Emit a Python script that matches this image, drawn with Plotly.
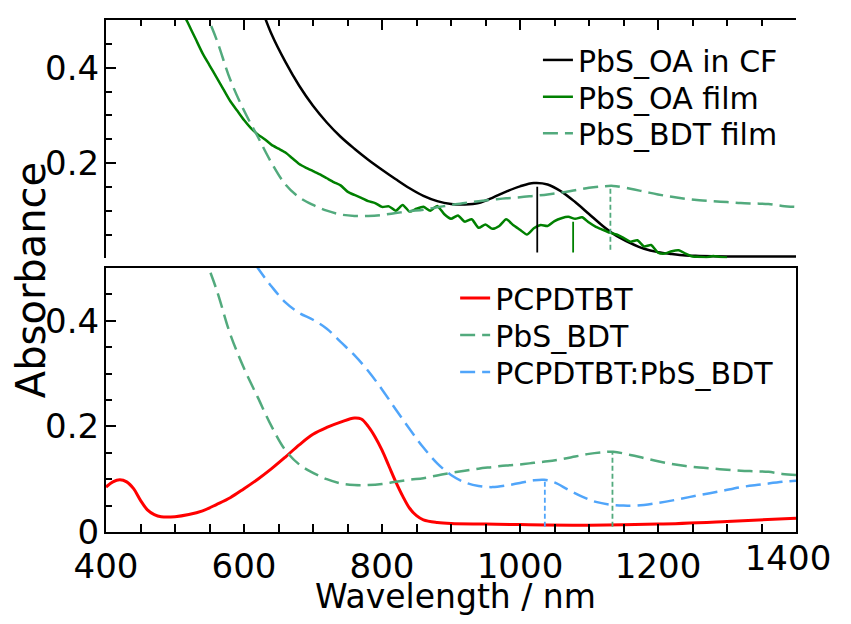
import plotly.graph_objects as go

# PbS_OA in chloroform (top panel, black)
cf_nm = [600, 620, 640, 660, 680, 700, 720, 740, 760, 780, 800, 820, 840, 860, 880, 900,
         920, 940, 960, 980, 1000, 1020, 1040, 1060, 1080, 1100, 1120, 1140, 1160, 1180,
         1200, 1220, 1240, 1260, 1300, 1350, 1400]
cf_abs = [0.62, 0.545, 0.47, 0.412, 0.362, 0.32, 0.285, 0.255, 0.23, 0.207, 0.186, 0.166, 0.147,
          0.131, 0.12, 0.114, 0.113, 0.116, 0.127, 0.14, 0.151, 0.158, 0.155, 0.14, 0.118,
          0.093, 0.068, 0.047, 0.032, 0.02, 0.013, 0.009, 0.006, 0.005, 0.004, 0.004, 0.004]

# PbS_OA film (top panel, green, noisy)
film_nm = list(range(500, 1310, 10))
film_abs = [0.56, 0.52, 0.49, 0.46, 0.43, 0.405, 0.38, 0.355, 0.33, 0.31, 0.29, 0.273, 0.26,
            0.25, 0.238, 0.23, 0.222, 0.21, 0.198, 0.19, 0.183, 0.176, 0.168, 0.16, 0.153,
            0.14, 0.133, 0.127, 0.12, 0.116, 0.108, 0.109, 0.1, 0.112, 0.098, 0.104, 0.108,
            0.1, 0.11, 0.093, 0.083, 0.09, 0.077, 0.082, 0.064, 0.071, 0.062, 0.068, 0.082,
            0.07, 0.06, 0.05, 0.063, 0.07, 0.068, 0.078, 0.084, 0.087, 0.083, 0.086, 0.075,
            0.066, 0.06, 0.054, 0.05, 0.043, 0.035, 0.038, 0.025, 0.028, 0.012, 0.01, 0.015,
            0.017, 0.01, 0.004, 0.003, 0.002, 0.005, 0.003, 0.002]

# PbS_BDT film (both panels, dashed green)
bdt_nm = [540, 560, 580, 600, 620, 640, 660, 680, 700, 720, 740, 760, 780, 800, 820, 840, 860,
          880, 900, 920, 940, 960, 980, 1000, 1020, 1040, 1060, 1080, 1100, 1120, 1135, 1160,
          1180, 1200, 1220, 1240, 1260, 1280, 1300, 1320, 1340, 1360, 1380, 1400]
bdt_abs = [0.53, 0.46, 0.375, 0.31, 0.255, 0.2, 0.155, 0.128, 0.112, 0.1, 0.092, 0.089, 0.089,
           0.091, 0.095, 0.099, 0.102, 0.107, 0.112, 0.116, 0.12, 0.123, 0.126, 0.128, 0.131,
           0.134, 0.138, 0.143, 0.148, 0.151, 0.152, 0.146, 0.14, 0.134, 0.129, 0.125, 0.122,
           0.12, 0.118, 0.116, 0.115, 0.114, 0.11, 0.108]

# PCPDTBT (bottom panel, red)
pc_nm = [400, 410, 420, 430, 440, 450, 460, 470, 480, 500, 520, 540, 560, 580, 600, 620, 640,
         660, 680, 700, 720, 740, 760, 770, 780, 790, 800, 810, 820, 830, 840, 850, 860, 880,
         900, 950, 1000, 1100, 1200, 1300, 1400]
pc_abs = [0.085, 0.095, 0.099, 0.095, 0.082, 0.06, 0.042, 0.033, 0.029, 0.029, 0.033, 0.04,
          0.052, 0.065, 0.082, 0.1, 0.12, 0.142, 0.165, 0.185, 0.198, 0.208, 0.216, 0.214,
          0.2, 0.18, 0.155, 0.125, 0.095, 0.068, 0.045, 0.031, 0.023, 0.018, 0.016, 0.015,
          0.014, 0.013, 0.015, 0.02, 0.026]

# PCPDTBT:PbS_BDT blend (bottom panel, dashed blue)
blend_nm = [600, 620, 640, 660, 680, 700, 720, 740, 760, 780, 800, 820, 840, 860, 880, 900,
            920, 940, 960, 980, 1000, 1020, 1035, 1050, 1070, 1090, 1110, 1130, 1150, 1170,
            1200, 1230, 1260, 1290, 1320, 1350, 1380, 1400]
blend_abs = [0.54, 0.5, 0.465, 0.435, 0.415, 0.402, 0.385, 0.36, 0.335, 0.305, 0.27, 0.232,
             0.195, 0.16, 0.13, 0.108, 0.094, 0.087, 0.085, 0.088, 0.093, 0.098, 0.099, 0.094,
             0.08, 0.067, 0.057, 0.052, 0.05, 0.05, 0.055, 0.062, 0.07, 0.077, 0.085, 0.09,
             0.095, 0.097]

# exciton peak markers
top_peak_nm = [1025, 1077, 1131]
top_peak_hi = [0.15, 0.077, 0.15]
top_peak_lo = [0.012, 0.012, 0.018]
bot_peak_nm = [1036, 1134]
bot_peak_hi = [0.099, 0.15]
bot_peak_lo = [0.01, 0.01]

x_ticks = [400, 600, 800, 1000, 1200, 1400]

BLACK = "black"
GREEN = "rgb(0,128,0)"
SEA = "rgb(82,170,125)"
BLUE = "rgb(80,165,250)"
RED = "rgb(255,0,0)"
DASH = "15px,7px"
FONT = "DejaVu Sans"

fig = go.Figure()

# top panel
fig.add_trace(go.Scatter(x=cf_nm, y=cf_abs, mode="lines", name="PbS_OA in CF", legend="legend",
                         line=dict(color=BLACK, width=2.5, shape="spline"), xaxis="x2", yaxis="y2"))
fig.add_trace(go.Scatter(x=film_nm, y=film_abs, mode="lines", name="PbS_OA film", legend="legend3",
                         line=dict(color=GREEN, width=2.5, shape="spline", smoothing=0.6),
                         xaxis="x2", yaxis="y2"))
fig.add_trace(go.Scatter(x=bdt_nm, y=bdt_abs, mode="lines", name="PbS_BDT film", legend="legend4",
                         line=dict(color=SEA, width=2.5, dash=DASH, shape="spline"),
                         xaxis="x2", yaxis="y2"))
top_styles = [(BLACK, "solid"), (GREEN, "solid"), (SEA, "5px,3px")]
for i, (c, d) in enumerate(top_styles):
    fig.add_trace(go.Scatter(x=[top_peak_nm[i], top_peak_nm[i]], y=[top_peak_lo[i], top_peak_hi[i]],
                             mode="lines", line=dict(color=c, width=1.8, dash=d),
                             showlegend=False, xaxis="x2", yaxis="y2"))

# bottom panel
fig.add_trace(go.Scatter(x=pc_nm, y=pc_abs, mode="lines", name="PCPDTBT",
                         line=dict(color=RED, width=3, shape="spline"), legend="legend2"))
fig.add_trace(go.Scatter(x=bdt_nm, y=bdt_abs, mode="lines", name="PbS_BDT",
                         line=dict(color=SEA, width=2.5, dash=DASH, shape="spline"), legend="legend5"))
fig.add_trace(go.Scatter(x=blend_nm, y=blend_abs, mode="lines", name="PCPDTBT:PbS_BDT",
                         line=dict(color=BLUE, width=2.5, dash=DASH, shape="spline"), legend="legend6"))
for i, c in enumerate([BLUE, SEA]):
    fig.add_trace(go.Scatter(x=[bot_peak_nm[i], bot_peak_nm[i]], y=[bot_peak_lo[i], bot_peak_hi[i]],
                             mode="lines", line=dict(color=c, width=1.8, dash="5px,3px"),
                             showlegend=False))
# empty trace that carries the extra axis used for the last x label
fig.add_trace(go.Scatter(x=[], y=[], mode="lines", showlegend=False, hoverinfo="skip",
                         xaxis="x3", yaxis="y"))

tickfont = dict(family=FONT, size=34, color="black")
axline = dict(showline=True, linecolor="black", linewidth=2, showgrid=False, zeroline=False)


def one_legend(x, y):
    # one legend per row so the rows sit as close as in the original
    return dict(x=x, xanchor="left", y=y, yanchor="middle", bgcolor="rgba(0,0,0,0)",
                font=dict(family=FONT, size=30, color="black"))


# page body has an 8px margin, so the figure is kept inside the window
fig.update_layout(
    width=835, height=608,
    margin=dict(l=98, r=37, t=12, b=84),
    plot_bgcolor="white", paper_bgcolor="white",
    font=dict(family=FONT, color="black"),
    xaxis=dict(domain=[0, 1], anchor="y", range=[400, 1400], mirror=True,
               tickmode="array", tickvals=x_ticks[:-1],
               ticks="inside", ticklen=8, tickwidth=1.5, tickcolor="black",
               minor=dict(tickmode="linear", tick0=400, dtick=50, ticks="inside", ticklen=8,
                          tickwidth=1.5, tickcolor="black"),
               tickfont=tickfont, ticklabelstandoff=3, **axline),
    # last label nudged left so it stays inside the page
    xaxis3=dict(overlaying="x", anchor="y", side="bottom", range=[400, 1400],
                tickmode="array", tickvals=x_ticks[-1:], ticks="", showline=False,
                showgrid=False, zeroline=False, tickfont=tickfont, ticklabelstandoff=3,
                ticklabelshift=-8, ticklabeloverflow="allow"),
    yaxis=dict(domain=[0, 0.5156], anchor="x", range=[0, 0.5], mirror=True,
               tickmode="array", tickvals=[0, 0.2, 0.4], ticktext=["0", "0.2", "0.4"],
               ticks="inside", ticklen=10, tickwidth=1.5, tickcolor="black",
               minor=dict(tickmode="linear", tick0=0, dtick=0.05, ticks="inside", ticklen=6,
                          tickwidth=1.5, tickcolor="black"),
               tickfont=tickfont, ticklabelstandoff=-2, **axline),
    yaxis3=dict(overlaying="y", side="right", anchor="x", range=[0, 0.5], showticklabels=False,
                ticks="inside", ticklen=10, tickwidth=1.5, tickcolor="black", dtick=0.2, tick0=0,
                minor=dict(dtick=0.02, ticks="inside", ticklen=6, tickwidth=1.5, tickcolor="black"),
                **axline),
    xaxis2=dict(domain=[0, 1], anchor="y2", side="top", range=[400, 1400], showticklabels=False,
                ticks="inside", ticklen=10, tickwidth=1.5, tickcolor="black", dtick=200, tick0=400,
                minor=dict(dtick=50, ticks="inside", ticklen=6, tickwidth=1.5, tickcolor="black"),
                **axline),
    yaxis2=dict(domain=[0.5345, 1], anchor="x2", range=[0, 0.5],
                tickmode="array", tickvals=[0, 0.2, 0.4], ticktext=["", "0.2", "0.4"],
                ticks="inside", ticklen=10, tickwidth=1.5, tickcolor="black",
                minor=dict(tickmode="linear", tick0=0, dtick=0.05, ticks="inside", ticklen=6,
                           tickwidth=1.5, tickcolor="black"),
                tickfont=tickfont, ticklabelstandoff=-2, **axline),
    yaxis4=dict(overlaying="y2", side="right", anchor="x2", range=[0, 0.5], showticklabels=False,
                ticks="inside", ticklen=10, tickwidth=1.5, tickcolor="black", dtick=0.2, tick0=0,
                minor=dict(dtick=0.02, ticks="inside", ticklen=6, tickwidth=1.5, tickcolor="black"),
                **axline),
    legend=one_legend(0.626, 0.922),
    legend3=one_legend(0.626, 0.850),
    legend4=one_legend(0.626, 0.779),
    legend2=one_legend(0.506, 0.457),
    legend5=one_legend(0.506, 0.385),
    legend6=one_legend(0.506, 0.3125),
    showlegend=True,
)

fig.add_annotation(text="Absorbance", xref="paper", yref="paper", x=-0.1086, y=0.492,
                   xanchor="center", yanchor="middle", textangle=-90, showarrow=False,
                   font=dict(family=FONT, size=40, color="black"))
fig.add_annotation(text="Wavelength / nm", xref="paper", yref="paper", x=0.506, y=-0.125,
                   xanchor="center", yanchor="middle", showarrow=False,
                   font=dict(family=FONT, size=33, color="black"))

fig.write_html("out.html", config={"displayModeBar": False})
